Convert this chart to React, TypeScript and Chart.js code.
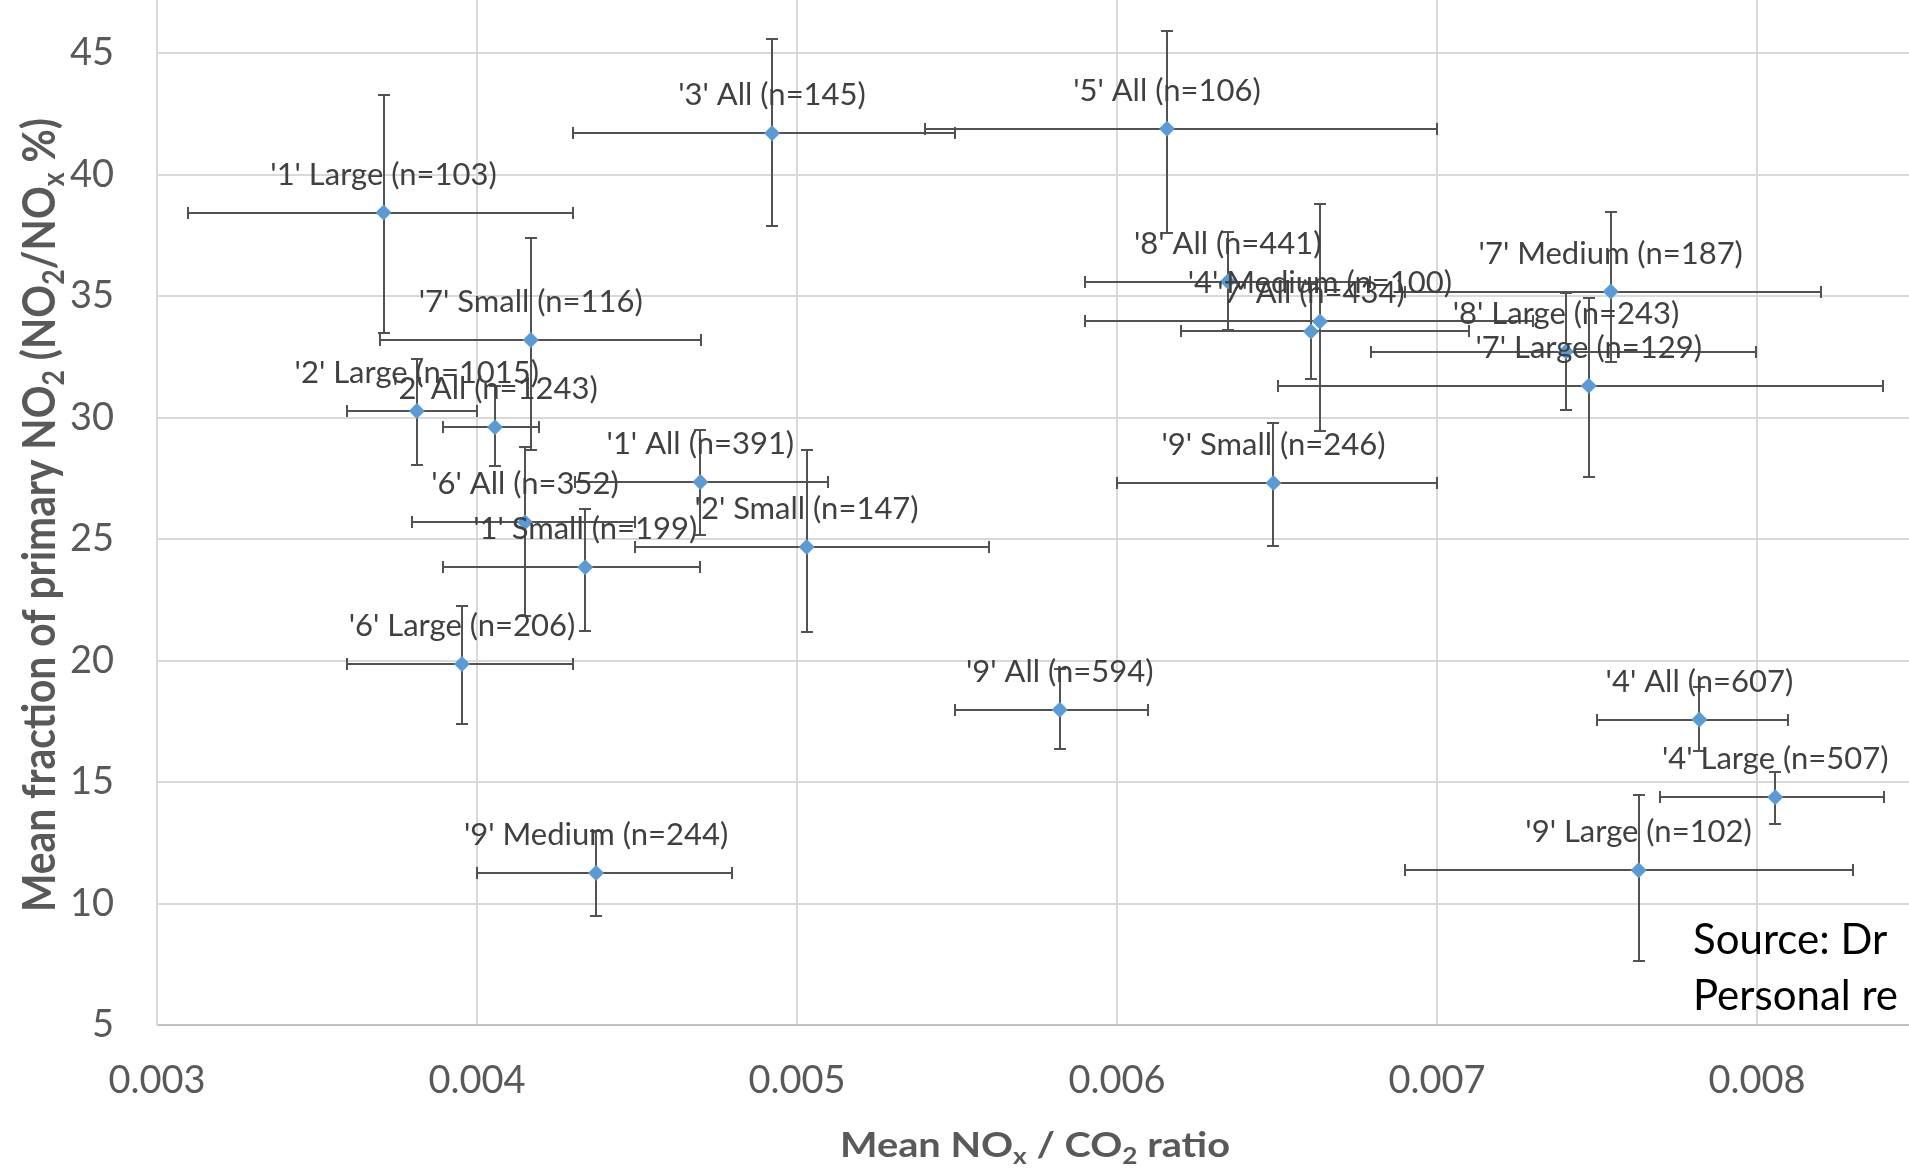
import React, { useEffect, useRef } from 'react';
import { Chart, registerables } from 'chart.js';

Chart.register(...registerables);

// ---- data ----
const pointLabels = [
  "'1' Large (n=103)", "'7' Small (n=116)", "'2' Large (n=1015)", "'2' All (n=1243)",
  "'6' All (n=352)", "'1' Small (n=199)", "'1' All (n=391)", "'2' Small (n=147)",
  "'3' All (n=145)", "'5' All (n=106)", "'8' All (n=441)", "'4' Medium (n=100)",
  "'7' All (n=434)", "'7' Medium (n=187)", "'8' Large (n=243)", "'7' Large (n=129)",
  "'9' Small (n=246)", "'9' All (n=594)", "'6' Large (n=206)", "'9' Medium (n=244)",
  "'4' All (n=607)", "'4' Large (n=507)", "'9' Large (n=102)",
];
const xMean = [
  0.003708, 0.004168, 0.003812, 0.004056, 0.00415, 0.004338, 0.004698, 0.00503,
  0.004922, 0.006156, 0.006346, 0.006634, 0.006606, 0.007543, 0.007403, 0.007474,
  0.006489, 0.005821, 0.003953, 0.004372, 0.00782, 0.008057, 0.00763,
];
const yMean = [
  38.44, 33.2, 30.27, 29.6, 25.69, 23.84, 27.35, 24.67,
  41.71, 41.89, 35.6, 33.96, 33.55, 35.19, 32.72, 31.31,
  27.31, 17.98, 19.86, 11.26, 17.57, 14.37, 11.37,
];
const xLow = [
  0.003096, 0.003698, 0.003593, 0.003895, 0.003796, 0.003895, 0.004306, 0.004494,
  0.0043, 0.0054, 0.0059, 0.0059, 0.0062, 0.0069, 0.006793, 0.006503,
  0.006, 0.005495, 0.003595, 0.003999, 0.0075, 0.007696, 0.0069,
];
const xHigh = [
  0.0043, 0.0047, 0.004, 0.004195, 0.004494, 0.004697, 0.005096, 0.0056,
  0.005495, 0.007, 0.00679, 0.0073, 0.0071, 0.0082, 0.007997, 0.008395,
  0.007, 0.006097, 0.004299, 0.004796, 0.008096, 0.008396, 0.0083,
];
const yLow = [
  33.48, 28.68, 28.06, 27.99, 21.82, 21.2, 25.15, 21.18,
  37.87, 37.59, 33.62, 29.43, 31.59, 32.31, 30.32, 27.56,
  24.7, 16.36, 17.39, 9.5, 16.27, 13.29, 7.63,
];
const yHigh = [
  43.27, 37.41, 32.41, 31.3, 28.81, 26.24, 29.5, 28.68,
  45.59, 45.93, 37.64, 38.8, 35.5, 38.46, 35.15, 34.94,
  29.78, 19.65, 22.23, 13.0, 18.91, 15.4, 14.48,
];
const xTickMin = 0.003;
const xTickStep = 0.001;
const yTickMin = 5;
const yTickStep = 5;
const xTitleParts: [string, boolean][] = [['Mean NO', false], ['x', true], [' / CO', false], ['2', true], [' ratio', false]];
const yTitleParts: [string, boolean][] = [
  ['Mean fraction of primary NO', false], ['2', true], [' (NO', false], ['2', true],
  ['/NO', false], ['x', true], [' %)', false],
];
const sourceLines = ['Source: Dr', 'Personal re'];

const FONT = 'Lato, "Open Sans", sans-serif';
const W = 1909;
const H = 1171;

function measureRich(ctx: CanvasRenderingContext2D, parts: [string, boolean][], base: string, sub: string) {
  let w = 0;
  for (const [t, s] of parts) {
    ctx.font = s ? sub : base;
    w += ctx.measureText(t).width;
  }
  return w;
}
function drawRich(ctx: CanvasRenderingContext2D, parts: [string, boolean][], base: string, sub: string, shift: number, x: number, y: number) {
  let cx = x;
  for (const [t, s] of parts) {
    ctx.font = s ? sub : base;
    ctx.fillText(t, cx, s ? y + shift : y);
    cx += ctx.measureText(t).width;
  }
}

const errorBarPlugin = {
  id: 'errorBars',
  beforeDatasetsDraw(chart: any) {
    const { ctx, chartArea: a, scales } = chart;
    const xs = scales.x, ys = scales.y;
    const cap = 6;
    ctx.save();
    ctx.beginPath();
    ctx.rect(a.left, a.top, a.right - a.left, a.bottom - a.top);
    ctx.clip();
    ctx.strokeStyle = '#525252';
    ctx.lineWidth = 2;
    for (let i = 0; i < xMean.length; i++) {
      const px = Math.round(xs.getPixelForValue(xMean[i]));
      const py = Math.round(ys.getPixelForValue(yMean[i]));
      const xl = Math.round(xs.getPixelForValue(xLow[i]));
      const xh = Math.round(xs.getPixelForValue(xHigh[i]));
      const yl = Math.round(ys.getPixelForValue(yLow[i]));
      const yh = Math.round(ys.getPixelForValue(yHigh[i]));
      ctx.beginPath();
      ctx.moveTo(xl, py); ctx.lineTo(xh, py);
      ctx.moveTo(xl, py - cap); ctx.lineTo(xl, py + cap);
      ctx.moveTo(xh, py - cap); ctx.lineTo(xh, py + cap);
      ctx.moveTo(px, yl); ctx.lineTo(px, yh);
      ctx.moveTo(px - cap, yl); ctx.lineTo(px + cap, yl);
      ctx.moveTo(px - cap, yh); ctx.lineTo(px + cap, yh);
      ctx.stroke();
    }
    ctx.restore();
  },
};

const labelPlugin = {
  id: 'pointLabels',
  afterDatasetsDraw(chart: any) {
    const { ctx, scales } = chart;
    ctx.save();
    ctx.font = `31px ${FONT}`;
    ctx.fillStyle = '#404040';
    ctx.textAlign = 'center';
    ctx.textBaseline = 'middle';
    for (let i = 0; i < xMean.length; i++) {
      const px = scales.x.getPixelForValue(xMean[i]);
      const py = scales.y.getPixelForValue(yMean[i]);
      ctx.fillText(pointLabels[i], px, py - 38);
    }
    ctx.restore();
  },
};

const titlePlugin = {
  id: 'richTitles',
  afterDraw(chart: any) {
    const { ctx, chartArea: a } = chart;
    ctx.save();
    ctx.fillStyle = '#595959';
    ctx.textAlign = 'left';
    ctx.textBaseline = 'alphabetic';
    // x title
    {
      const base = `bold 35px ${FONT}`;
      const sub = `bold 23px ${FONT}`;
      const w = measureRich(ctx, xTitleParts, base, sub);
      ctx.save();
      ctx.translate((a.left + a.right) / 2 + 2, 1157);
      ctx.scale(390 / w, 1);
      drawRich(ctx, xTitleParts, base, sub, 7, -w / 2, 0);
      ctx.restore();
    }
    // y title
    {
      const base = `bold 46px ${FONT}`;
      const sub = `bold 30px ${FONT}`;
      const w = measureRich(ctx, yTitleParts, base, sub);
      ctx.save();
      ctx.translate(55, 515);
      ctx.rotate(-Math.PI / 2);
      ctx.scale(794 / w, 1);
      drawRich(ctx, yTitleParts, base, sub, 9, -w / 2, 0);
      ctx.restore();
    }
    // source note
    ctx.fillStyle = '#000000';
    ctx.font = `42px ${FONT}`;
    ctx.fillText(sourceLines[0], 1693, 954);
    ctx.fillText(sourceLines[1], 1693, 1010);
    ctx.restore();
  },
};

export default function App() {
  const ref = useRef<HTMLCanvasElement | null>(null);
  useEffect(() => {
    if (!ref.current) return;
    const tickFont = { family: FONT, size: 38 };
    const chart = new Chart(ref.current, {
      type: 'scatter',
      data: {
        datasets: [
          {
            data: xMean.map((x, i) => ({ x, y: yMean[i] })),
            pointStyle: 'rectRot',
            pointRadius: 8,
            pointBackgroundColor: '#5b9bd5',
            pointBorderWidth: 0,
            showLine: false,
          },
        ],
      },
      options: {
        responsive: false,
        animation: false,
        devicePixelRatio: 1,
        events: [],
        layout: { padding: 0, autoPadding: false },
        plugins: { legend: { display: false }, tooltip: { enabled: false } },
        scales: {
          x: {
            type: 'linear',
            min: xTickMin,
            max: 0.008475,
            grid: { color: '#d9d9d9', lineWidth: 2, drawTicks: false },
            border: { color: '#bfbfbf', width: 2 },
            ticks: {
              stepSize: xTickStep,
              includeBounds: false,
              padding: 33,
              color: '#595959',
              font: tickFont,
              maxRotation: 0,
              autoSkip: false,
              callback: (v: any) => Number(v).toFixed(3),
            },
            afterFit: (s: any) => {
              s.height = 146;
              s.paddingLeft = 0;
              s.paddingRight = 0;
            },
          },
          y: {
            type: 'linear',
            min: yTickMin,
            max: 47.19,
            grid: { color: '#d9d9d9', lineWidth: 2, drawTicks: false },
            border: { color: '#d9d9d9', width: 2 },
            ticks: {
              stepSize: yTickStep,
              includeBounds: false,
              padding: 43,
              color: '#595959',
              font: tickFont,
              callback: (v: any) => String(Math.round(Number(v))),
            },
            afterFit: (s: any) => {
              s.width = 157;
              s.paddingTop = 0;
              s.paddingBottom = 0;
            },
          },
        },
      },
      plugins: [errorBarPlugin, labelPlugin, titlePlugin],
    } as any);
    return () => chart.destroy();
  }, []);
  return (
    <div style={{ position: 'fixed', left: 0, top: 0, width: W, height: H, background: '#ffffff', overflow: 'hidden' }}>
      <canvas ref={ref} width={W} height={H} style={{ display: 'block', width: W, height: H }} />
    </div>
  );
}
